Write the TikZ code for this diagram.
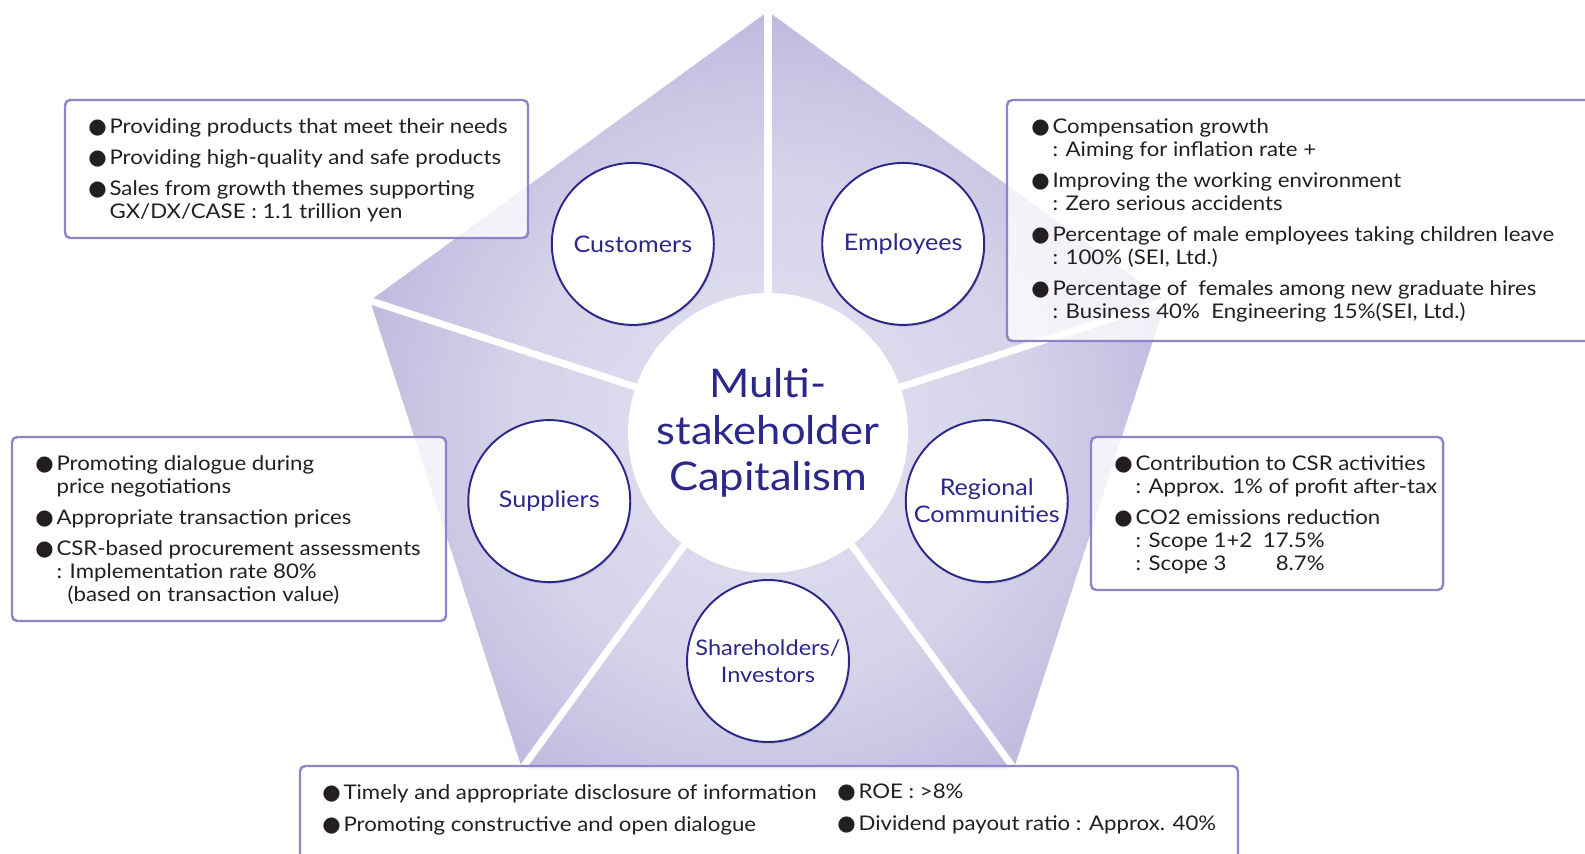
\documentclass[tikz,border=0pt]{standalone}
\usepackage{fontspec}
\setmainfont{Lato}[FakeStretch=1.1]
\newfontfamily\symfont{DejaVu Sans}
\usetikzlibrary{calc, positioning, shadows}

\definecolor{pentadark}{RGB}{166,160,207}
\definecolor{pentamid}{RGB}{180,174,216}
\definecolor{pentasoft}{RGB}{214,211,234}
\definecolor{pentalight}{RGB}{228,226,242}
\definecolor{inkblue}{RGB}{44,40,138}
\definecolor{boxline}{RGB}{140,133,199}
\definecolor{bodytext}{RGB}{35,31,32}

\pgfdeclareradialshading{pentashade}{\pgfpoint{0bp}{0bp}}{%
  color(0bp)=(pentalight); color(15bp)=(pentasoft); color(30bp)=(pentamid); color(42bp)=(pentadark); color(50bp)=(pentadark)}

\newcommand{\bul}{\makebox[1.05em][l]{\symfont\fontsize{12}{13}\selectfont ●}}
\newcommand{\hang}{\hspace*{1.05em}}

\tikzset{
  stake/.style={circle, draw=inkblue, line width=1.1pt, fill=white, minimum size=3.24cm,
    inner sep=0pt, align=center, text=inkblue, font=\fontsize{13}{15.3}\selectfont,
    drop shadow={shadow xshift=0.6pt, shadow yshift=-1pt, opacity=0.3}},
  infobox/.style={draw=boxline, line width=1.4pt, rounded corners=3pt, fill=white, fill opacity=0.78},
  infotext/.style={anchor=north west, align=left, inner sep=0pt, text=bodytext,
    font=\fontsize{11.5}{13}\selectfont},
  ray/.style={white, line width=4pt}
}

\begin{document}
\begin{tikzpicture}[x=0.02cm, y=-0.02cm]
  % canvas, same size as the reference
  \useasboundingbox (0,0) rectangle (1585,854);
  \clip (0,0) rectangle (1585,854);

  % Pentagon: centre and corners
  \pgfmathsetmacro{\R}{418.5}
  \coordinate (hub) at (768,430);
  \foreach \a [count=\i] in {-90,-162,-234,-306,-18}
    \coordinate (v\i) at ($(hub)+(\a:\R)$);

  % shaded body
  \begin{scope}
    \clip (v1) -- (v2) -- (v3) -- (v4) -- (v5) -- cycle;
    \shade[shading=pentashade] (hub) circle[radius=8.4cm];
  \end{scope}

  % white rays from the centre to the corners
  \foreach \i in {1,...,5}
    \draw[ray] (hub) -- ($(hub)!1.03!(v\i)$);

  % centre circle
  \node[circle, fill=white, minimum size=5.6cm, inner sep=0pt, align=center, text=inkblue,
    font=\fontsize{22.5}{26.6}\selectfont] (core) at ($(hub)+(0,3)$) {Multi-\\stakeholder\\Capitalism};

  % stakeholder circles
  \node[stake] (cust) at ($(hub)+(-126:230)$) {Customers};
  \node[stake] (empl) at ($(hub)+(-54:230)$) {Employees};
  \node[stake] (supp) at ($(hub)+(-198:230)$) {Suppliers};
  \node[stake] (regi) at ($(hub)+(-342:230)$) {Regional\\Communities};
  \node[stake, font=\fontsize{12.2}{15.3}\selectfont] (share) at ($(hub)+(90:231)$) {Shareholders/\\Investors};

  % text boxes
  \draw[infobox] (65,100) rectangle (528,238);
  \draw[infobox] (1007,100) rectangle (1600,341);
  \draw[infobox] (12,437) rectangle (446,621);
  \draw[infobox] (1091,437) rectangle (1443,590);
  \draw[infobox] (300,766) rectangle (1238,880);

  \node[infotext] (custtext) at (88,118) {\bul Providing products that meet their needs\\[4.8pt]
    \bul Providing high-quality and safe products\\[4.8pt]
    \bul Sales from growth themes supporting\\
    \hang GX/DX/CASE : 1.1 trillion yen};

  \node[infotext] (empltext) at (1031,118) {\bul Compensation growth\\
    \hang : Aiming for inflation rate +\\[4.8pt]
    \bul Improving the working environment\\
    \hang : Zero serious accidents\\[4.8pt]
    \bul Percentage of male employees taking children leave\\
    \hang : 100\% (SEI, Ltd.)\\[4.8pt]
    \bul Percentage of\ \ females among new graduate hires\\
    \hang : Business 40\%\ \ Engineering 15\%(SEI, Ltd.)};

  \node[infotext] (supptext) at (35,455) {\bul Promoting dialogue during\\
    \hang price negotiations\\[4.8pt]
    \bul Appropriate transaction prices\\[4.8pt]
    \bul CSR-based procurement assessments\\
    \hang : Implementation rate 80\%\\
    \hang\hspace*{0.55em}(based on transaction value)};

  \node[infotext] (regitext) at (1114,455) {\bul Contribution to CSR activities\\
    \hang : Approx. 1\% of profit after-tax\\[4.8pt]
    \bul CO2 emissions reduction\\
    \hang\makebox[6.3em][l]{: Scope 1+2}17.5\%\\
    \hang\makebox[6.3em][l]{: Scope 3}\phantom{1}8.7\%};

  \node[infotext] (sharetext) at (322,784) {\bul Timely and appropriate disclosure of information\\[5.1pt]
    \bul Promoting constructive and open dialogue};
  \node[infotext] (returntext) at (837,784) {\bul ROE : >8\%\\[5.1pt]
    \bul Dividend payout ratio : Approx. 40\%};
\end{tikzpicture}
\end{document}
